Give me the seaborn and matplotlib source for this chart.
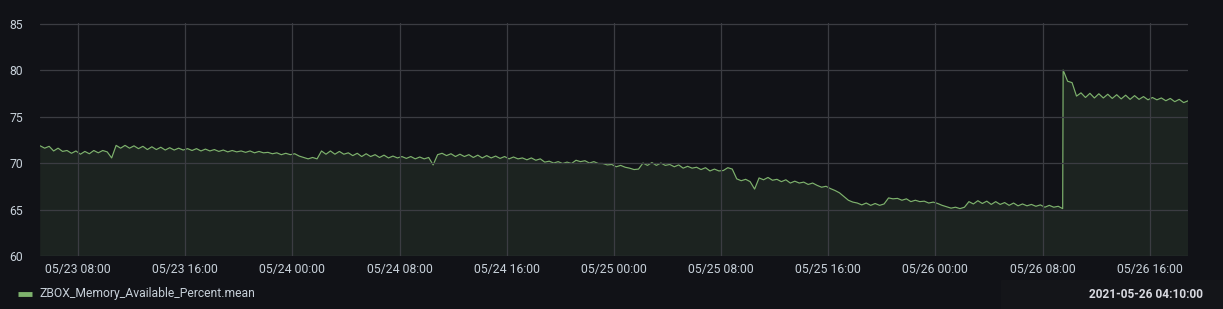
import numpy as np
import pandas as pd
import matplotlib
matplotlib.use("Agg")
import matplotlib.pyplot as plt
import matplotlib.dates as mdates
import seaborn as sns

# ---- data ----
series_name = "ZBOX_Memory_Available_Percent.mean"
tooltip_time = "2021-05-26 04:10:00"

# segment before the jump: every 20 min from 2021-05-23 05:10 to 2021-05-26 09:30
before_start = "2021-05-23 05:10"
before_values = [
    # 05/23 05h .. 23h
    71.85, 71.6, 71.8,   71.3, 71.6, 71.25,   71.35, 71.05, 71.3,   70.95, 71.25, 71.0,
    71.35, 71.1, 71.35,  71.2, 70.55, 71.9,   71.6, 71.9, 71.6,     71.85, 71.55, 71.8,
    71.45, 71.75, 71.45, 71.7, 71.4, 71.65,   71.4, 71.6, 71.4,     71.55, 71.35, 71.55,
    71.3, 71.5, 71.3,    71.45, 71.25, 71.4,  71.2, 71.35, 71.2,    71.3, 71.15, 71.3,
    71.1, 71.25, 71.1,   71.15, 71.0, 71.1,   70.9, 71.05, 70.9,
    # 05/24 00h .. 23h
    71.0, 70.75, 70.6,   70.45, 70.6, 70.45,  71.3, 70.95, 71.3,    70.95, 71.25, 70.95,
    71.1, 70.8, 71.05,   70.7, 71.0, 70.7,    70.9, 70.6, 70.85,    70.55, 70.75, 70.55,
    70.7, 70.5, 70.7,    70.45, 70.65, 70.45, 70.6, 69.8, 70.9,     71.05, 70.8, 71.0,
    70.7, 70.95, 70.7,   70.9, 70.6, 70.85,   70.55, 70.8, 70.55,   70.75, 70.5, 70.7,
    70.45, 70.65, 70.45, 70.55, 70.35, 70.55, 70.3, 70.45, 70.1,    70.2, 70.0, 70.15,
    69.95, 70.1, 69.95,  70.3, 70.15, 70.25,  70.0, 70.15, 69.95,   69.95, 69.8, 69.85,
    # 05/25 00h .. 23h
    69.6, 69.75, 69.55,  69.45, 69.3, 69.35,  70.0, 69.75, 70.05,   69.75, 70.0, 69.75,
    69.85, 69.6, 69.8,   69.45, 69.65, 69.45, 69.55, 69.3, 69.5,    69.15, 69.35, 69.15,
    69.2, 69.5, 69.35,   68.3, 68.1, 68.25,   68.0, 67.2, 68.4,     68.2, 68.45, 68.15,
    68.25, 68.0, 68.2,   67.85, 68.05, 67.85, 67.95, 67.7, 67.85,   67.6, 67.4, 67.5,
    67.25, 67.05, 66.8,  66.4, 66.0, 65.8,    65.7, 65.5, 65.7,     65.45, 65.65, 65.45,
    65.6, 66.25, 66.15,  66.2, 66.0, 66.15,   65.85, 66.0, 65.85,   65.9, 65.7, 65.8,
    # 05/26 00h .. 09:30
    65.65, 65.45, 65.3,  65.15, 65.25, 65.1,  65.25, 65.85, 65.6,   65.95, 65.65, 65.9,
    65.55, 65.85, 65.55, 65.75, 65.45, 65.7,  65.4, 65.6, 65.4,     65.55, 65.35, 65.5,
    65.25, 65.45, 65.25, 65.35, 65.1,
]

# segment after the jump: every 20 min from 2021-05-26 09:32 to 18:52
after_start = "2021-05-26 09:32"
after_values = [
    80.0, 78.8, 78.65, 77.2, 77.55, 77.05, 77.5, 77.0, 77.45, 77.0,
    77.4, 76.95, 77.35, 76.9, 77.3, 76.85, 77.25, 76.85, 77.15, 76.8,
    77.05, 76.8, 77.0, 76.7, 76.95, 76.6, 76.85, 76.5, 76.7,
]

x_start = "2021-05-23 05:09"
x_end = "2021-05-26 18:50"
y_ticks = [60, 65, 70, 75, 80, 85]

# ---- build table ----
t_before = pd.date_range(before_start, periods=len(before_values), freq="20min")
t_after = pd.date_range(after_start, periods=len(after_values), freq="20min")
df = pd.DataFrame({
    "time": list(t_before) + list(t_after),
    "value": before_values + after_values,
})

# ---- style ----
BG = "#111217"
GRID = "#3b3c42"
GREEN = "#7EB26D"
TXT = "#c7d0d9"

sns.set_theme(style="dark")
plt.rcParams["font.family"] = ["Roboto", "DejaVu Sans"]

fig = plt.figure(figsize=(12.23, 3.09), dpi=100, facecolor=BG)
ax = fig.add_axes([40 / 1223, 1 - 256.3 / 309, (1187.7 - 40) / 1223, (256.3 - 23.3) / 309])
ax.set_facecolor(BG)

ax.fill_between(df["time"], df["value"], 0, color=GREEN, alpha=0.11, linewidth=0)
sns.lineplot(data=df, x="time", y="value", ax=ax, color=GREEN, linewidth=0.85,
             legend=False)

ax.set_xlim(pd.Timestamp(x_start), pd.Timestamp(x_end))
ax.set_ylim(59.97, 85.03)
ax.set_yticks(y_ticks)
ax.set_yticklabels([str(v) for v in y_ticks])
ax.xaxis.set_major_locator(mdates.HourLocator(byhour=[0, 8, 16]))
ax.xaxis.set_major_formatter(mdates.DateFormatter("%m/%d %H:%M"))

ax.grid(True, color=GRID, linewidth=0.9)
ax.set_axisbelow(False)
for s in ax.spines.values():
    s.set_visible(False)
ax.tick_params(axis="both", length=0, colors=TXT, labelsize=8.8)
ax.tick_params(axis="y", pad=12)
ax.tick_params(axis="x", pad=5)
for lab in ax.get_yticklabels():
    lab.set_horizontalalignment("right")
ax.set_xlabel("")
ax.set_ylabel("")

# legend (bottom left)
fig.add_artist(plt.Line2D([18 / 1223, 32 / 1223], [1 - 294 / 309, 1 - 294 / 309],
                          color=GREEN, linewidth=3.5, solid_capstyle="butt"))
fig.text(39 / 1223, 1 - 294 / 309, series_name, color=TXT, fontsize=8.7,
         va="center", ha="left")

# tooltip time box (bottom right)
fig.add_artist(plt.Rectangle((1001 / 1223, 0), 1 - 1001 / 1223, 29 / 309,
                             transform=fig.transFigure, color="#141519", zorder=0))
fig.text(1203 / 1223, 1 - 295 / 309, tooltip_time, color="#d8d9e0", fontsize=8.6,
         fontweight="bold", va="center", ha="right")

fig.savefig("out.png", dpi=100, facecolor=BG)
